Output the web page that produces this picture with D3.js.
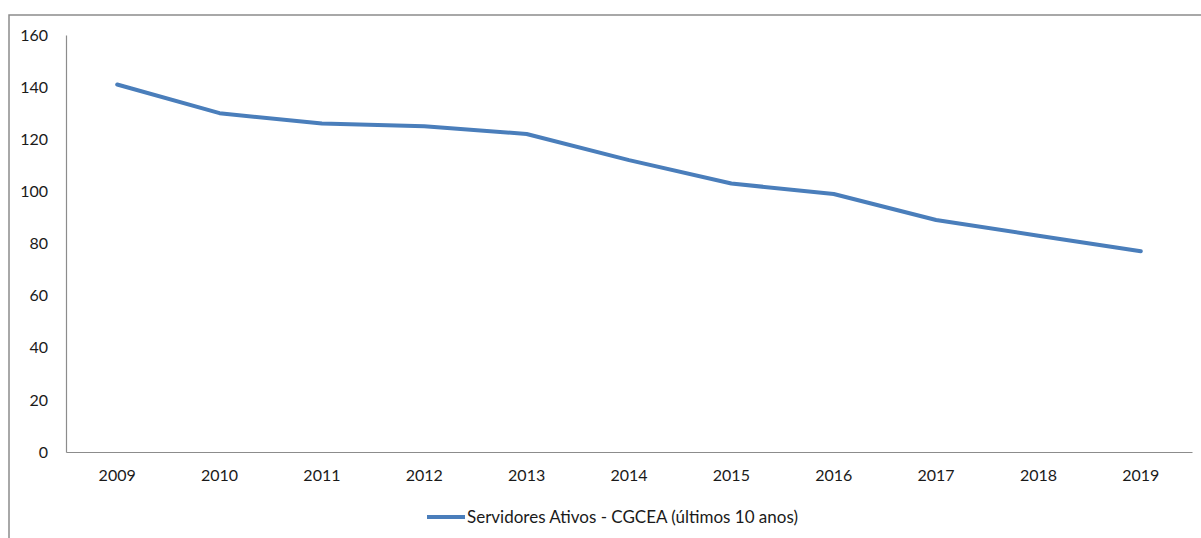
<!DOCTYPE html>
<html>
<head>
<meta charset="utf-8">
<script src="https://cdn.jsdelivr.net/npm/d3@7"></script>
<style>
  body { margin: 0; background: #fff; }
  text { font-family: Lato, "Open Sans", sans-serif; fill: #1a1a1a; }
</style>
</head>
<body>
<div id="chart"></div>
<script>
// data
const years = ["2009", "2010", "2011", "2012", "2013", "2014", "2015", "2016", "2017", "2018", "2019"];
const servidores = [141, 130, 126, 125, 122, 112, 103, 99, 89, 83, 77];
const yTicks = [0, 20, 40, 60, 80, 100, 120, 140, 160];
const seriesName = "Servidores Ativos - CGCEA (últimos 10 anos)";

let width = 1201, height = 538;
let margin = {top: 35, left: 66, right: 9, bottom: 86};

let svg = d3.select('#chart')
            .append('svg')
            .attr('width', width)
            .attr('height', height);

// outer frame (only top and left edge show in the picture)
svg.append('path')
   .attr('d', `M9,${height} L9,15 L${width},15`)
   .attr('fill', 'none')
   .attr('stroke', '#8c8c8c')
   .attr('stroke-width', 1.5);

let x = d3.scaleBand()
          .domain(years)
          .range([margin.left, width - margin.right]);

let y = d3.scaleLinear()
          .domain([0, 160])
          .range([height - margin.bottom, margin.top]);

// y axis: line only, labels on the left
let yAxis = svg.append('g')
               .attr('transform', `translate(${margin.left},0)`)
               .call(d3.axisLeft(y).tickValues(yTicks).tickSize(0).tickPadding(18));
yAxis.select('.domain').attr('stroke', '#8c8c8c').attr('stroke-width', 1.2);
yAxis.selectAll('text').style('font-size', '16px').style('font-family', 'Lato, sans-serif').attr('fill', '#1a1a1a');

// x axis
let xAxis = svg.append('g')
               .attr('transform', `translate(0,${y(0)})`)
               .call(d3.axisBottom(x).tickSize(0).tickPadding(18));
xAxis.select('.domain').attr('stroke', '#8c8c8c').attr('stroke-width', 1.2);
xAxis.selectAll('text').style('font-size', '16px').style('font-family', 'Lato, sans-serif').attr('fill', '#1a1a1a');

// the series line
let line = d3.line()
             .x((d, i) => x(years[i]) + x.bandwidth() / 2)
             .y(d => y(d));

svg.append('path')
   .datum(servidores)
   .attr('d', line)
   .attr('fill', 'none')
   .attr('stroke', '#4a7ebb')
   .attr('stroke-width', 4)
   .attr('stroke-linecap', 'round')
   .attr('stroke-linejoin', 'round');

// legend
let legend = svg.append('g').attr('transform', 'translate(427,517)');
legend.append('line')
      .attr('x1', 0).attr('x2', 38)
      .attr('stroke', '#4a7ebb')
      .attr('stroke-width', 4);
legend.append('text')
      .attr('x', 40)
      .attr('dy', '0.35em')
      .style('font-size', '17px')
      .text(seriesName);
</script>
</body>
</html>
